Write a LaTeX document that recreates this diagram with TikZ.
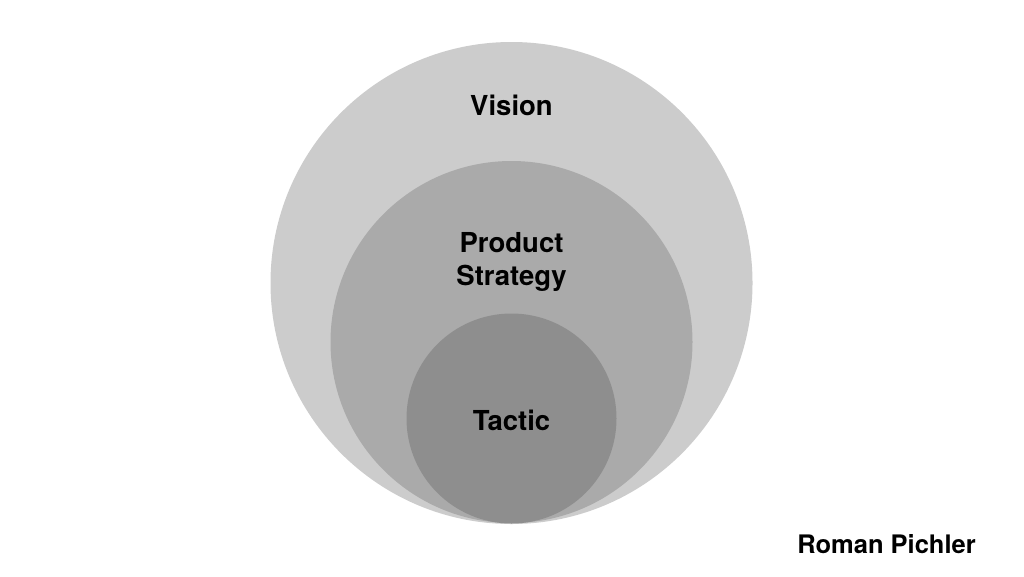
\documentclass[tikz,border=0pt]{standalone}
\usepackage{fontspec}
\setmainfont{TeX Gyre Heros}
\definecolor{outerc}{RGB}{204,204,204}
\definecolor{midc}{RGB}{170,170,170}
\definecolor{innerc}{RGB}{142,142,142}
\begin{document}
\begin{tikzpicture}[x=1pt,y=-1pt,
  lbl/.style={font=\bfseries\fontsize{27.5}{33}\selectfont, text=black, inner sep=0pt, anchor=base, align=center}]
\useasboundingbox[fill=white] (0,0) rectangle (1024,576);
\fill[outerc] (511.5,283) circle[radius=241];
\fill[midc] (511.5,342) circle[radius=181];
\fill[innerc] (511.5,418.5) circle[radius=105];
\node[lbl] (vision) at (511.5,115) {Vision};
\node[lbl] (strategy) at (511.5,285) {Product\\Strategy};
\node[lbl] (tactic) at (511.5,430) {Tactic};
\node[lbl, font=\bfseries\fontsize{25.5}{30}\selectfont] (author) at (886.5,553) {Roman Pichler};
\end{tikzpicture}
\end{document}
